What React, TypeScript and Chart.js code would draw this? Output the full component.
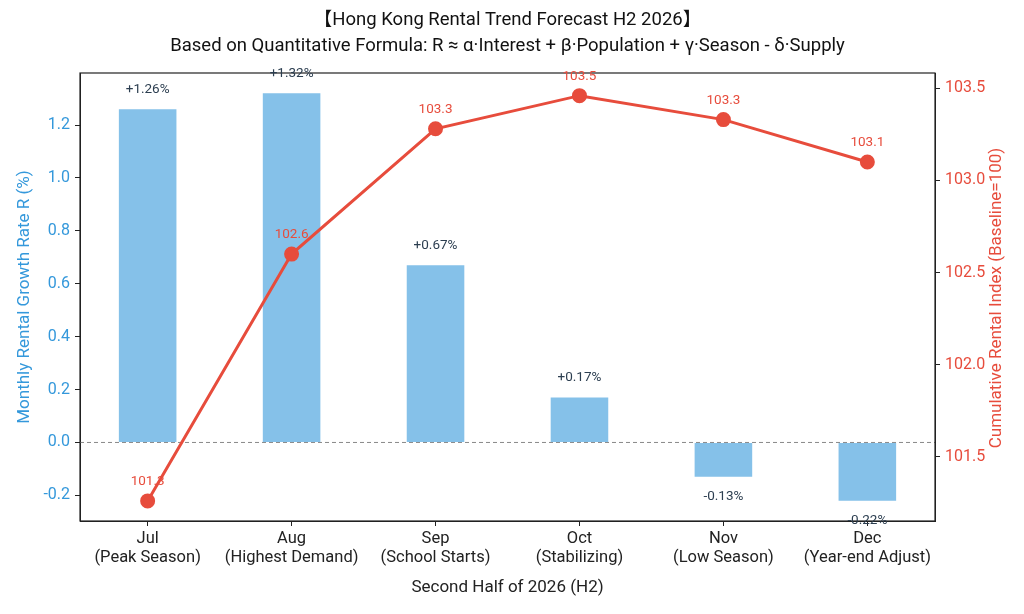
import React, { useEffect, useRef } from "react";
import { Chart, registerables } from "chart.js";

Chart.register(...registerables);

const CATEGORIES: string[][] = [
  ["Jul", "(Peak Season)"],
  ["Aug", "(Highest Demand)"],
  ["Sep", "(School Starts)"],
  ["Oct", "(Stabilizing)"],
  ["Nov", "(Low Season)"],
  ["Dec", "(Year-end Adjust)"],
];
const GROWTH = [1.26, 1.32, 0.67, 0.17, -0.13, -0.22];
const GROWTH_LABELS = ["+1.26%", "+1.32%", "+0.67%", "+0.17%", "-0.13%", "-0.22%"];
const INDEX = [101.26, 102.6, 103.28, 103.46, 103.33, 103.1];
const INDEX_LABELS = ["101.3", "102.6", "103.3", "103.5", "103.3", "103.1"];
const LEFT_TICKS = [-0.2, 0.0, 0.2, 0.4, 0.6, 0.8, 1.0, 1.2];
const RIGHT_TICKS = [101.5, 102.0, 102.5, 103.0, 103.5];
const TITLE_1 = "【Hong Kong Rental Trend Forecast H2 2026】";
const TITLE_2 = "Based on Quantitative Formula: R ≈ α·Interest + β·Population + γ·Season - δ·Supply";
const RIGHT_TITLE = "Cumulative Rental Index (Baseline=100)";

const FONT = "Roboto, 'Noto Sans CJK SC', sans-serif";
const BLUE = "#3498DB";
const RED = "#E74C3C";
const BAR = "#85C1E9";
const DARK = "#2C3E50";

const overlay = {
  id: "overlay",
  beforeDatasetsDraw(chart: any) {
    const { ctx, chartArea, scales } = chart;
    const y0 = scales.y.getPixelForValue(0);
    ctx.save();
    ctx.strokeStyle = "#888888";
    ctx.lineWidth = 1;
    ctx.setLineDash([4, 3]);
    ctx.beginPath();
    ctx.moveTo(chartArea.left, y0);
    ctx.lineTo(chartArea.right, y0);
    ctx.stroke();
    ctx.restore();
  },
  afterDraw(chart: any) {
    const { ctx, chartArea, scales } = chart;
    ctx.save();
    ctx.strokeStyle = "#222222";
    ctx.lineWidth = 1.2;
    ctx.strokeRect(chartArea.left, chartArea.top, chartArea.right - chartArea.left, chartArea.bottom - chartArea.top);
    ctx.fillStyle = "#111111";
    ctx.textAlign = "center";
    ctx.textBaseline = "middle";
    ctx.font = `18.5px ${FONT}`;
    const cx = (chartArea.left + chartArea.right) / 2;
    ctx.fillText(TITLE_1, cx, 20);
    ctx.fillText(TITLE_2, cx, 46);
    // right axis title
    ctx.save();
    ctx.translate(997, (chartArea.top + chartArea.bottom) / 2 + 1);
    ctx.rotate(-Math.PI / 2);
    ctx.fillStyle = RED;
    ctx.font = `17px ${FONT}`;
    ctx.fillText(RIGHT_TITLE, 0, 0);
    ctx.restore();
    // bar labels
    ctx.font = `13.5px ${FONT}`;
    ctx.fillStyle = DARK;
    GROWTH.forEach((v, i) => {
      const x = scales.x.getPixelForValue(i);
      const y = scales.y.getPixelForValue(v) + (v >= 0 ? -20 : 20);
      ctx.fillText(GROWTH_LABELS[i], x, y);
    });
    ctx.fillStyle = RED;
    INDEX.forEach((v, i) => {
      const x = scales.x.getPixelForValue(i);
      const y = scales.y1.getPixelForValue(v) - 19;
      ctx.fillText(INDEX_LABELS[i], x, y);
    });
    ctx.restore();
  },
};

export default function App() {
  const ref = useRef<HTMLCanvasElement | null>(null);
  useEffect(() => {
    if (!ref.current) return;
    const chart = new Chart(ref.current, {
      type: "bar",
      data: {
        datasets: [
          {
            type: "line",
            data: INDEX.map((v, i) => ({ x: i, y: v })),
            yAxisID: "y1",
            borderColor: RED,
            backgroundColor: RED,
            borderWidth: 3,
            pointRadius: 6,
            pointBackgroundColor: RED,
            pointBorderColor: RED,
            tension: 0,
            order: 0,
          } as any,
          {
            type: "bar",
            data: GROWTH.map((v, i) => ({ x: i, y: v })),
            yAxisID: "y",
            backgroundColor: BAR,
            barPercentage: 0.4,
            categoryPercentage: 1.0,
            order: 1,
          } as any,
        ],
      },
      options: {
        responsive: false,
        animation: false,
        layout: { padding: { top: 73, left: 0, right: 0, bottom: 0 } },
        plugins: { legend: { display: false }, tooltip: { enabled: false }, title: { display: false } },
        scales: {
          x: {
            type: "linear",
            min: -0.47,
            max: 5.47,
            offset: false,
            afterBuildTicks: (s: any) => {
              s.ticks = CATEGORIES.map((_, i) => ({ value: i }));
            },
            afterFit: (s: any) => {
              s.height = 93;
            },
            ticks: {
              callback: (v: any) => CATEGORIES[v] ?? "",
              color: "#222222",
              font: { family: FONT, size: 16.5, lineHeight: 1.15 },
              padding: 3,
              maxRotation: 0,
              autoSkip: false,
            },
            grid: { offset: false, drawOnChartArea: false, drawTicks: true, tickLength: 5, color: "#222222" },
            border: { display: true, color: "#222222" },
            title: {
              display: true,
              text: "Second Half of 2026 (H2)",
              color: "#222222",
              font: { family: FONT, size: 17 },
              padding: { top: 0, bottom: 16 },
              align: "center",
            },
          },
          y: {
            type: "linear",
            position: "left",
            min: -0.297,
            max: 1.397,
            afterBuildTicks: (s: any) => {
              s.ticks = LEFT_TICKS.map((v) => ({ value: v }));
            },
            afterFit: (s: any) => {
              s.width = 80;
            },
            ticks: {
              callback: (v: any) => Number(v).toFixed(1),
              color: BLUE,
              font: { family: FONT, size: 16 },
              padding: 5,
            },
            grid: { drawOnChartArea: false, drawTicks: true, tickLength: 5, color: "#222222" },
            border: { display: true, color: "#222222" },
            title: {
              display: true,
              text: "Monthly Rental Growth Rate R (%)",
              color: BLUE,
              font: { family: FONT, size: 17 },
              padding: { top: 15, bottom: 0 },
            },
          },
          y1: {
            type: "linear",
            position: "right",
            min: 101.151,
            max: 103.583,
            afterBuildTicks: (s: any) => {
              s.ticks = RIGHT_TICKS.map((v) => ({ value: v }));
            },
            afterFit: (s: any) => {
              s.width = 89;
            },
            ticks: {
              callback: (v: any) => Number(v).toFixed(1),
              color: RED,
              font: { family: FONT, size: 16 },
              padding: 5,
            },
            grid: { drawOnChartArea: false, drawTicks: true, tickLength: 5, color: "#222222" },
            border: { display: true, color: "#222222" },
            title: { display: false },
          },
        },
      },
      plugins: [overlay],
    } as any);
    return () => chart.destroy();
  }, []);
  return (
    <canvas
      ref={ref}
      width={1024}
      height={614}
      style={{ position: "absolute", left: 0, top: 0, display: "block" }}
    />
  );
}
